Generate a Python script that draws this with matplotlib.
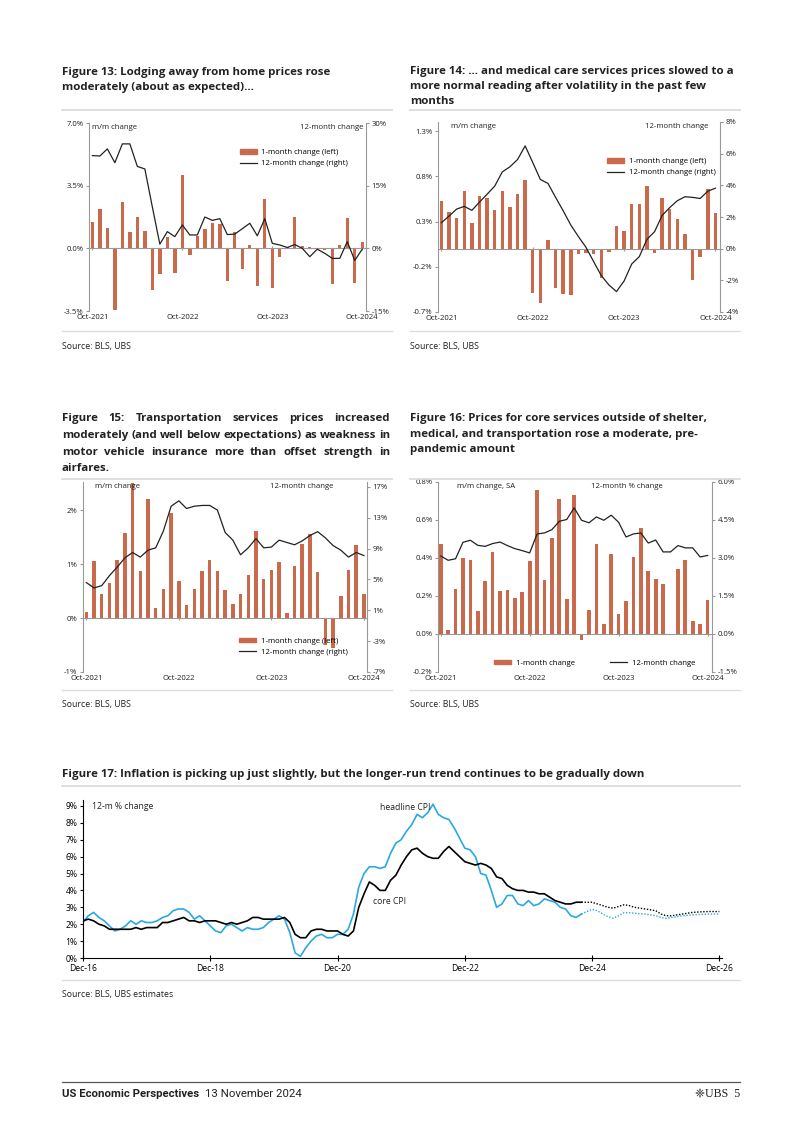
import matplotlib
matplotlib.use("Agg")
import matplotlib.pyplot as plt
from matplotlib.lines import Line2D
from matplotlib.patches import Patch
from matplotlib.font_manager import FontProperties

plt.rcParams['axes.unicode_minus'] = False
plt.rcParams['font.family'] = ['Open Sans', 'DejaVu Sans']

# ---------------- DATA ----------------
months13 = list(range(37))  # Oct-2021 .. Oct-2024
xlabels13 = ["Oct-2021", "Oct-2022", "Oct-2023", "Oct-2024"]

lodging_mm = [1.48, 2.2, 1.15, -3.46, 2.57, 0.9, 1.76, 0.98, -2.3, -1.46, 0.61, -1.35, 4.11,
              -0.37, 0.7, 1.07, 1.4, 1.37, -1.85, 0.94, -1.17, 0.17, -2.13, 2.78, -2.22, -0.46,
              0.05, 1.74, 0.13, 0.07, 0.02, -0.07, -2.0, 0.18, 1.72, -1.93, 0.37]
lodging_yy = [22.2, 22.1, 23.8, 20.5, 25.0, 25.0, 19.6, 19.0, 9.9, 1.0, 4.0, 2.8, 5.6, 3.2,
              3.2, 7.5, 6.7, 7.1, 3.3, 3.4, 4.7, 6.0, 3.0, 7.1, 1.2, 0.8, 0.2, 0.9, 0.0, -2.0,
              -0.2, -1.2, -2.4, -2.4, 1.6, -2.9, -0.2]

medical_mm = [0.53, 0.41, 0.34, 0.64, 0.28, 0.58, 0.56, 0.43, 0.64, 0.46, 0.60, 0.76, -0.49,
              -0.60, 0.10, -0.44, -0.50, -0.51, -0.06, -0.05, -0.06, -0.32, -0.04, 0.25, 0.20,
              0.49, 0.49, 0.69, -0.05, 0.56, 0.44, 0.33, 0.16, -0.35, -0.09, 0.66, 0.39]
medical_yy = [1.64, 2.06, 2.5, 2.67, 2.42, 2.94, 3.44, 3.95, 4.85, 5.17, 5.63, 6.49, 5.44, 4.37,
              4.12, 3.24, 2.39, 1.49, 0.76, 0.08, -0.82, -1.70, -2.29, -2.71, -2.04, -0.97,
              -0.50, 0.59, 1.07, 2.10, 2.6, 3.03, 3.28, 3.24, 3.17, 3.63, 3.82]

transp_mm = [0.11, 1.05, 0.45, 0.64, 1.07, 1.57, 2.51, 0.87, 2.2, 0.18, 0.53, 1.94, 0.69, 0.24,
             0.54, 0.87, 1.07, 0.88, 0.51, 0.26, 0.44, 0.80, 1.61, 0.72, 0.89, 1.03, 0.09, 0.97,
             1.37, 1.55, 0.85, -0.50, -0.55, 0.41, 0.89, 1.35, 0.44]
transp_yy = [4.6, 3.9, 4.2, 5.5, 6.6, 7.8, 8.5, 7.9, 8.8, 9.1, 11.3, 14.5, 15.2, 14.2, 14.5, 14.6,
             14.6, 14.0, 11.1, 10.1, 8.2, 9.1, 10.3, 9.1, 9.2, 10.1, 9.8, 9.5, 10.0, 10.7, 11.2,
             10.4, 9.4, 8.8, 7.9, 8.5, 8.1]

other_mm = [0.476, 0.019, 0.238, 0.40, 0.39, 0.122, 0.277, 0.432, 0.226, 0.229, 0.192, 0.219,
            0.386, 0.756, 0.284, 0.506, 0.712, 0.185, 0.73, -0.032, 0.125, 0.476, 0.051, 0.421,
            0.106, 0.173, 0.403, 0.559, 0.33, 0.289, 0.264, -0.007, 0.34, 0.39, 0.07, 0.055, 0.178]
other_yy = [3.08, 2.91, 2.97, 3.62, 3.70, 3.50, 3.46, 3.57, 3.63, 3.49, 3.37, 3.29, 3.20, 3.95,
            3.99, 4.12, 4.45, 4.52, 4.98, 4.49, 4.39, 4.62, 4.49, 4.69, 4.41, 3.83, 3.95, 3.99,
            3.59, 3.71, 3.24, 3.24, 3.49, 3.40, 3.40, 3.04, 3.10]

# Figure 17: monthly, Dec-2016 = 0
cpi_headline = [2.1,
                2.5, 2.7, 2.4, 2.2, 1.9, 1.6, 1.7, 1.9, 2.2, 2.0, 2.2, 2.1,
                2.1, 2.2, 2.4, 2.5, 2.8, 2.9, 2.9, 2.7, 2.3, 2.5, 2.2, 1.9,
                1.6, 1.5, 1.9, 2.0, 1.8, 1.6, 1.8, 1.7, 1.7, 1.8, 2.1, 2.3,
                2.5, 2.3, 1.5, 0.3, 0.1, 0.6, 1.0, 1.3, 1.4, 1.2, 1.2, 1.4,
                1.4, 1.7, 2.6, 4.2, 5.0, 5.4, 5.4, 5.3, 5.4, 6.2, 6.8, 7.0,
                7.5, 7.9, 8.5, 8.3, 8.6, 9.1, 8.5, 8.3, 8.2, 7.7, 7.1, 6.5,
                6.4, 6.0, 5.0, 4.9, 4.0, 3.0, 3.2, 3.7, 3.7, 3.2, 3.1, 3.4,
                3.1, 3.2, 3.5, 3.4, 3.3, 3.0, 2.9, 2.5, 2.4, 2.6]
cpi_core = [2.2,
            2.3, 2.2, 2.0, 1.9, 1.7, 1.7, 1.7, 1.7, 1.7, 1.8, 1.7, 1.8,
            1.8, 1.8, 2.1, 2.1, 2.2, 2.3, 2.4, 2.2, 2.2, 2.1, 2.2, 2.2,
            2.2, 2.1, 2.0, 2.1, 2.0, 2.1, 2.2, 2.4, 2.4, 2.3, 2.3, 2.3,
            2.3, 2.4, 2.1, 1.4, 1.2, 1.2, 1.6, 1.7, 1.7, 1.6, 1.6, 1.6,
            1.4, 1.3, 1.6, 3.0, 3.8, 4.5, 4.3, 4.0, 4.0, 4.6, 4.9, 5.5,
            6.0, 6.4, 6.5, 6.2, 6.0, 5.9, 5.9, 6.3, 6.6, 6.3, 6.0, 5.7,
            5.6, 5.5, 5.6, 5.5, 5.3, 4.8, 4.7, 4.3, 4.1, 4.0, 4.0, 3.9,
            3.9, 3.8, 3.8, 3.6, 3.4, 3.3, 3.2, 3.2, 3.3, 3.3]
# forecasts Oct-24 (index 94) .. Dec-26 (index 120)
fc_headline = [2.6, 2.75, 2.88, 2.8, 2.6, 2.45, 2.35, 2.5, 2.68, 2.68, 2.65, 2.62, 2.6, 2.55,
               2.5, 2.4, 2.35, 2.4, 2.45, 2.5, 2.52, 2.55, 2.57, 2.58, 2.6, 2.6, 2.6]
fc_core = [3.3, 3.3, 3.3, 3.2, 3.1, 3.0, 2.95, 3.05, 3.15, 3.1, 3.0, 2.95, 2.9, 2.85, 2.8,
           2.6, 2.5, 2.5, 2.55, 2.6, 2.65, 2.7, 2.72, 2.74, 2.75, 2.75, 2.75]
xlabels17 = ["Dec-16", "Dec-18", "Dec-20", "Dec-22", "Dec-24", "Dec-26"]

# ---------------- STYLE ----------------
W, H = 802, 1134
BAR = '#c86a4b'
LINE = '#222222'
CYAN = '#29a9e0'
AXC = '#999999'
TXT = '#222222'
RULE = '#dcdcdc'
TICKFS = 5.6
TFS = 8.25

fig = plt.figure(figsize=(W / 100, H / 100), dpi=100)
renderer = fig.canvas.get_renderer()


def fx(px):
    return px / W


def fy(py):
    return 1 - py / H


def add_ax(x0, y0, x1, y1):
    return fig.add_axes([fx(x0), fy(y1), (x1 - x0) / W, (y1 - y0) / H])


def hrule(x0, x1, y, color=RULE, lw=1.3):
    fig.add_artist(Line2D([fx(x0), fx(x1)], [fy(y), fy(y)], color=color, lw=lw,
                          transform=fig.transFigure))


def ftext(px, py, s, **kw):
    kw.setdefault('color', TXT)
    return fig.text(fx(px), fy(py), s, **kw)


def text_width(s, size, weight='normal', family=None):
    fp = FontProperties(family=family or plt.rcParams['font.family'], size=size,
                        weight=weight)
    w, h, d = renderer.get_text_width_height_descent(s, fp, ismath=False)
    return w


def justify(line, x0, x1, y, size, weight='bold'):
    words = line.split()
    widths = [text_width(w, size, weight) for w in words]
    gap = ((x1 - x0) - sum(widths)) / (len(words) - 1)
    x = x0
    for wd, w in zip(words, widths):
        ftext(x, y, wd, fontsize=size, weight=weight)
        x += w + gap


def pct(fmt):
    return lambda v: (fmt % v) + '%'


def bar_chart(box, mm, yy, lyl, lticks, lfmt, ryl, rticks, rfmt, xl, lab_l, lab_r,
              lab_l_x, lab_r_x, legend_kw, leg_labels, width=0.45):
    ax = add_ax(*box)
    ax2 = ax.twinx()
    ax.bar(months13, mm, width=width, color=BAR, zorder=2)
    ax2.plot(months13, yy, color=LINE, lw=0.9, zorder=3)
    ax.set_xlim(*xl)
    ax.set_ylim(*lyl)
    ax2.set_ylim(*ryl)
    ax.set_yticks(lticks, [lfmt(v) for v in lticks])
    ax2.set_yticks(rticks, [rfmt(v) for v in rticks])
    for s in ['top', 'right']:
        ax.spines[s].set_visible(False)
    for s in ['top', 'left', 'bottom']:
        ax2.spines[s].set_visible(False)
    ax.spines['left'].set_color(AXC)
    ax2.spines['right'].set_color(AXC)
    ax.spines['left'].set_linewidth(0.8)
    ax2.spines['right'].set_linewidth(0.8)
    ax.spines['bottom'].set_position(('data', 0))
    ax.spines['bottom'].set_color(AXC)
    ax.spines['bottom'].set_linewidth(0.8)
    ax.set_xticks([0, 12, 24, 36])
    ax.tick_params(axis='x', length=3, direction='inout', color=AXC, labelbottom=False)
    ax.tick_params(axis='y', length=2, color=AXC, labelsize=TICKFS, labelcolor=TXT, pad=2)
    ax2.tick_params(axis='y', length=2, color=AXC, labelsize=TICKFS, labelcolor=TXT, pad=2)
    sec = ax.secondary_xaxis('bottom')
    sec.set_xticks([0, 12, 24, 36], xlabels13)
    sec.tick_params(length=0, labelsize=TICKFS, labelcolor=TXT, pad=2)
    sec.spines['bottom'].set_visible(False)
    ax.patch.set_alpha(0)
    top = box[1]
    ftext(lab_l_x, top + 1, lab_l, fontsize=TICKFS, va='top', ha='left')
    ftext(lab_r_x, top + 1, lab_r, fontsize=TICKFS, va='top', ha='right')
    handles = [Patch(color=BAR), Line2D([], [], color=LINE, lw=0.9)]
    ax2.legend(handles, leg_labels, frameon=False, fontsize=TICKFS, handlelength=2.2,
               handleheight=0.5, handletextpad=0.6, borderpad=0, labelspacing=0.5,
               **legend_kw)
    return ax, ax2


# ---------- Figure 13 ----------
ftext(62, 75, "Figure 13: Lodging away from home prices rose", fontsize=TFS, weight='bold')
ftext(62, 90, "moderately (about as expected)...", fontsize=TFS, weight='bold')
hrule(62, 392, 110)
bar_chart((89, 123, 366, 311), lodging_mm, lodging_yy, (-3.5, 7.0), [-3.5, 0, 3.5, 7.0],
          pct('%.1f'), (-15, 30), [-15, 0, 15, 30], pct('%d'), (-0.45, 36.5),
          "m/m change", "12-month change", 92, 363,
          dict(loc='upper left', bbox_to_anchor=(0.53, 0.88)),
          ["1-month change (left)", "12-month change (right)"])
ftext(62, 349, "Source: BLS, UBS", fontsize=6.3)
hrule(62, 392, 331, lw=1.0)

# ---------- Figure 14 ----------
ftext(410, 74, "Figure 14: \u2026 and medical care services prices slowed to a", fontsize=TFS,
      weight='bold')
ftext(410, 89, "more normal reading after volatility in the past few", fontsize=TFS, weight='bold')
ftext(410, 104, "months", fontsize=TFS, weight='bold')
hrule(410, 740, 110)
bar_chart((438, 122, 720, 312), medical_mm, medical_yy, (-0.7, 1.4),
          [-0.7, -0.2, 0.3, 0.8, 1.3], pct('%.1f'), (-4, 8), [-4, -2, 0, 2, 4, 6, 8],
          pct('%d'), (-0.45, 36.6), "m/m change", "12-month change", 451, 708,
          dict(loc='upper left', bbox_to_anchor=(0.585, 0.83)),
          ["1-month change (left)", "12-month change (right)"])
ftext(410, 349, "Source: BLS, UBS", fontsize=6.3)
hrule(410, 740, 331, lw=1.0)

# ---------- Figure 15 ----------
justify("Figure 15: Transportation services prices increased", 62, 390, 421, TFS)
justify("moderately (and well below expectations) as weakness in", 62, 390, 438, TFS)
justify("motor vehicle insurance more than offset strength in", 62, 390, 455, TFS)
ftext(62, 471, "airfares.", fontsize=TFS, weight='bold')
hrule(62, 392, 479)
bar_chart((83, 482, 367, 672), transp_mm, transp_yy, (-1, 2.52), [-1, 0, 1, 2],
          pct('%d'), (-7, 17.64), [-7, -3, 1, 5, 9, 13, 17], pct('%d'), (-0.43, 36.4),
          "m/m change", "12-month change", 95, 333,
          dict(loc='upper left', bbox_to_anchor=(0.535, 0.2)),
          ["1-month change (left)", "12-month change (right)"])
ftext(62, 707, "Source: BLS, UBS", fontsize=6.3)
hrule(62, 392, 690, lw=1.0)

# ---------- Figure 16 ----------
ftext(410, 421, "Figure 16: Prices for core services outside of shelter,", fontsize=TFS,
      weight='bold')
ftext(410, 436.5, "medical, and transportation rose a moderate, pre-", fontsize=TFS,
      weight='bold')
ftext(410, 452, "pandemic amount", fontsize=TFS, weight='bold')
hrule(410, 740, 479)
bar_chart((438, 482, 712, 672), other_mm, other_yy, (-0.2, 0.8),
          [-0.2, 0, 0.2, 0.4, 0.6, 0.8], pct('%.1f'), (-1.5, 6.0),
          [-1.5, 0, 1.5, 3.0, 4.5, 6.0], pct('%.1f'), (-0.37, 36.6),
          "m/m change, SA", "12-month % change", 457, 663,
          dict(loc='upper left', bbox_to_anchor=(0.19, 0.085), ncol=2, columnspacing=4.5),
          ["1-month change", "12-month change"], width=0.5)
ftext(410, 707, "Source: BLS, UBS", fontsize=6.3)
hrule(410, 740, 690, lw=1.0)

# ---------- Figure 17 ----------
ftext(62, 777, "Figure 17: Inflation is picking up just slightly, but the longer-run trend "
      "continues to be gradually down", fontsize=TFS, weight='bold')
hrule(62, 740, 786)
ax5 = add_ax(83, 800, 722, 958)
n = len(cpi_headline)
xa = list(range(n))
xf = list(range(n - 1, n - 1 + len(fc_headline)))
ax5.plot(xa, cpi_headline, color=CYAN, lw=1.2)
ax5.plot(xa, cpi_core, color='black', lw=1.2)
ax5.plot(xf, fc_headline, color=CYAN, lw=1.0, ls=(0, (1, 1.2)))
ax5.plot(xf, fc_core, color='black', lw=1.0, ls=(0, (1, 1.2)))
ax5.set_xlim(0, 120.5)
ax5.set_ylim(0, 9.35)
yt = list(range(10))
ax5.set_yticks(yt, ['%d%%' % v for v in yt])
ax5.set_xticks([0, 24, 48, 72, 96, 120], xlabels17)
for s in ['top', 'right']:
    ax5.spines[s].set_visible(False)
ax5.spines['left'].set_linewidth(0.8)
ax5.spines['bottom'].set_linewidth(0.8)
ax5.tick_params(axis='y', length=2, labelsize=6.2, pad=2)
ax5.tick_params(axis='x', length=4, direction='inout', labelsize=6.2, pad=2)
ftext(92, 802, "12-m % change", fontsize=6.2, va='top')
ftext(430, 808, "headline CPI", fontsize=6.2, ha='right', va='center')
ftext(373, 902, "core CPI", fontsize=6.2, ha='left', va='center')
ftext(62, 997, "Source: BLS, UBS estimates", fontsize=6.3)
hrule(62, 740, 980, lw=1.0)

# ---------- Footer ----------
hrule(62, 740, 1082, color='#555555', lw=0.9)
FFAM = ['Roboto', 'DejaVu Sans']
ftext(62, 1097, "US Economic Perspectives", fontsize=8.2, weight='bold', family=FFAM,
      stretch='condensed')
bw = text_width("US Economic Perspectives", 8.2, 'bold', FFAM)
ftext(62 + bw + 6, 1097, "13 November 2024", fontsize=8.2, family=FFAM)
ftext(740, 1097, "\u2748UBS  5", fontsize=8.6, ha='right',
      family=['Liberation Serif', 'DejaVu Sans'])

fig.savefig("out.png", dpi=100)
